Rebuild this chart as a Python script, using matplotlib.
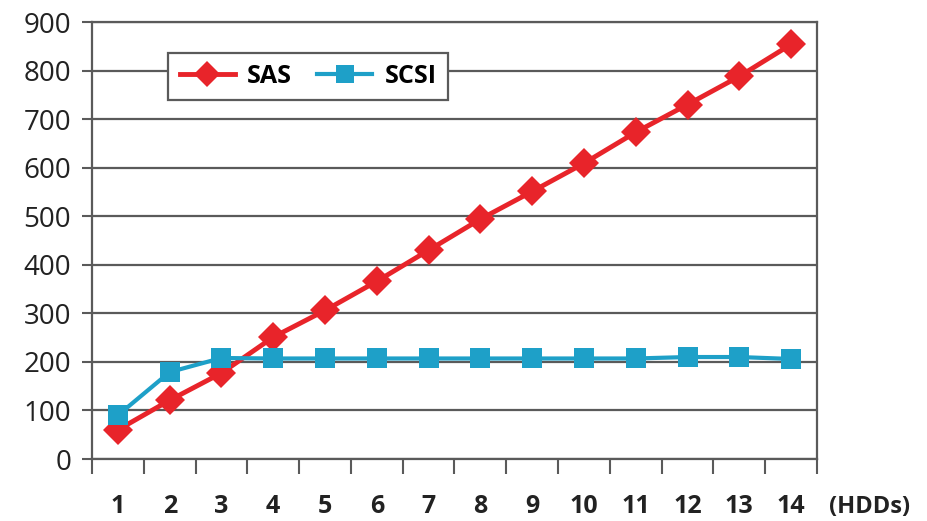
import matplotlib
matplotlib.use("Agg")
import matplotlib.pyplot as plt
import numpy as np

# values
hdds = [1, 2, 3, 4, 5, 6, 7, 8, 9, 10, 11, 12, 13, 14]
sas = [60, 121, 177, 251, 306, 366, 430, 494, 551, 609, 673, 730, 788, 854]
scsi = [90, 179, 208, 207, 207, 207, 207, 207, 207, 207, 207, 210, 210, 206]
y_ticks = [0, 100, 200, 300, 400, 500, 600, 700, 800, 900]

red = '#e8242a'
blue = '#1ea0c8'
grid_col = '#5a5a5a'

plt.rcParams['font.family'] = ['Open Sans', 'DejaVu Sans']

fig = plt.figure(figsize=(9.28, 5.21), dpi=100)
ax = fig.add_axes([92 / 928, 1 - 459 / 521, 725 / 928, 437 / 521])

x = np.arange(len(hdds))
ax.plot(x, sas, color=red, linewidth=3.5, marker='D', markersize=15,
        markeredgewidth=0, label='SAS', zorder=3)
ax.plot(x, scsi, color=blue, linewidth=3, marker='s', markersize=15,
        markeredgewidth=0, label='SCSI', zorder=4)

ax.set_xlim(-0.5, len(hdds) - 0.5)
ax.set_ylim(0, 900)
ax.set_yticks(y_ticks)
ax.set_yticklabels([str(v) for v in y_ticks], fontsize=20)
ax.yaxis.grid(True, color=grid_col, linewidth=1.6)
ax.set_axisbelow(True)

ax.set_xticks(x)
ax.set_xticklabels([str(h) for h in hdds], fontsize=18, fontweight='bold',
                   color='#222222')
ax.set_xticks(np.arange(len(hdds) + 1) - 0.5, minor=True)
ax.tick_params(axis='x', which='major', length=0, pad=25)
ax.tick_params(axis='x', which='minor', length=11, width=1.5, color=grid_col,
               direction='out')
ax.tick_params(axis='y', length=7, width=1.5, color=grid_col, pad=8,
               labelcolor='#222222')

for s in ax.spines.values():
    s.set_color(grid_col)
    s.set_linewidth(1.6)

ax.text(1.073, -0.11, '(HDDs)', transform=ax.transAxes, fontsize=17,
        fontweight='bold', color='#222222', ha='center', va='center')

leg = ax.legend(loc='upper left', bbox_to_anchor=(0.088, 0.958), ncol=2,
                frameon=True, fancybox=False,
                prop={'weight': 'bold', 'size': 18},
                handlelength=2.2, handletextpad=0.5, columnspacing=1.0,
                borderpad=0.45, markerscale=0.9)
leg.get_frame().set_edgecolor(grid_col)
leg.get_frame().set_linewidth(1.6)
leg.get_frame().set_alpha(1)

fig.savefig('out.png', dpi=100)
